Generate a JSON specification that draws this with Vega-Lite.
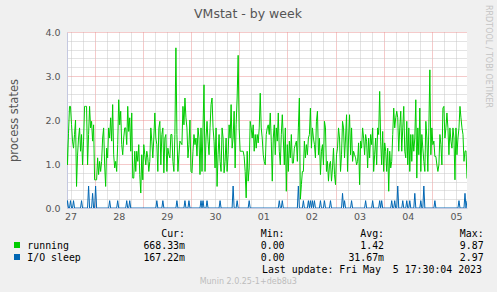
{
"$schema": "https://vega.github.io/schema/vega-lite/v6.json",
"width": 400,
"height": 176,
"autosize": {"type": "none"},
"padding": {"left": 67, "top": 32, "right": 30, "bottom": 84},
"background": "#f0f0f0",
"view": {"fill": "#ffffff", "stroke": null},
"config": {"font": "DejaVu Sans"},
"title": {"text": "VMstat - by week", "font": "DejaVu Sans", "fontSize": 12.5, "fontWeight": "normal", "color": "#555555", "anchor": "middle", "frame": "group", "dx": -19, "offset": -16},
"datasets": {
"vm": [
{"h":10,"r":1.59,"s":0},{"h":10.5,"r":0.98,"s":0.167},{"h":11,"r":1.7,"s":0},{"h":11.5,"r":2.31,"s":0},{"h":12,"r":2.31,"s":0.167},{"h":12.5,"r":1.9,"s":0},{"h":13,"r":1.52,"s":0},{"h":13.5,"r":1.36,"s":0.167},{"h":14,"r":1.67,"s":0},{"h":14.5,"r":2.0,"s":0},
{"h":15,"r":0.49,"s":0},{"h":15.5,"r":1.2,"s":0},{"h":16,"r":1.59,"s":0},{"h":16.5,"r":1.82,"s":0},{"h":17,"r":1.29,"s":0},{"h":17.5,"r":1.67,"s":0.167},{"h":18,"r":0.98,"s":0},{"h":18.5,"r":1.52,"s":0},{"h":19,"r":2.31,"s":0},{"h":19.5,"r":2.31,"s":0},
{"h":20,"r":2.31,"s":0},{"h":20.5,"r":0.98,"s":0},{"h":21,"r":1.67,"s":0.5},{"h":21.5,"r":2.31,"s":0},{"h":22,"r":1.82,"s":0},{"h":22.5,"r":1.97,"s":0},{"h":23,"r":1.52,"s":0.333},{"h":23.5,"r":1.89,"s":0},{"h":24,"r":0.64,"s":0},{"h":24.5,"r":0.64,"s":0.5},
{"h":25,"r":0.64,"s":0},{"h":25.5,"r":1.14,"s":0},{"h":26,"r":0.76,"s":0},{"h":26.5,"r":1.06,"s":0},{"h":27,"r":0.83,"s":0},{"h":27.5,"r":1.06,"s":0},{"h":28,"r":1.59,"s":0},{"h":28.5,"r":1.82,"s":0},{"h":29,"r":0.98,"s":0},{"h":29.5,"r":0.49,"s":0},
{"h":30,"r":1.36,"s":0},{"h":30.5,"r":1.14,"s":0},{"h":31,"r":1.82,"s":0},{"h":31.5,"r":1.59,"s":0.167},{"h":32,"r":2.05,"s":0},{"h":32.5,"r":1.52,"s":0},{"h":33,"r":2.35,"s":0},{"h":33.5,"r":1.21,"s":0},{"h":34,"r":0.91,"s":0},{"h":34.5,"r":1.06,"s":0},
{"h":35,"r":0.83,"s":0},{"h":35.5,"r":1.44,"s":0.167},{"h":36,"r":2.46,"s":0},{"h":36.5,"r":1.89,"s":0},{"h":37,"r":2.2,"s":0},{"h":37.5,"r":1.44,"s":0},{"h":38,"r":1.21,"s":0},{"h":38.5,"r":1.59,"s":0},{"h":39,"r":1.82,"s":0},{"h":39.5,"r":1.82,"s":0},
{"h":40,"r":1.44,"s":0.167},{"h":40.5,"r":2.31,"s":0},{"h":41,"r":1.74,"s":0},{"h":41.5,"r":2.05,"s":0.167},{"h":42,"r":1.29,"s":0},{"h":42.5,"r":2.16,"s":0},{"h":43,"r":0.68,"s":0},
{"h":43.5,"r":0.68,"s":0},{"h":44,"r":1.29,"s":0},{"h":44.5,"r":0.83,"s":0},{"h":45,"r":1.29,"s":0},{"h":45.5,"r":1.06,"s":0},{"h":46,"r":1.44,"s":0},{"h":46.5,"r":0.76,"s":0},{"h":47,"r":0.34,"s":0},{"h":47.5,"r":1.21,"s":0},{"h":48,"r":0.64,"s":0},
{"h":48.5,"r":1.44,"s":0},{"h":49,"r":1.21,"s":0},{"h":49.5,"r":0.98,"s":0},{"h":50,"r":1.29,"s":0},{"h":50.5,"r":1.14,"s":0},{"h":51,"r":0.83,"s":0},{"h":51.5,"r":1.06,"s":0},{"h":52,"r":1.82,"s":0},{"h":52.5,"r":1.52,"s":0},{"h":53,"r":1.14,"s":0},
{"h":53.5,"r":1.59,"s":0},{"h":54,"r":2.16,"s":0},{"h":54.5,"r":1.59,"s":0},{"h":55,"r":1.44,"s":0.167},{"h":55.5,"r":0.83,"s":0},{"h":56,"r":1.82,"s":0},{"h":56.5,"r":1.97,"s":0},{"h":57,"r":0.98,"s":0},{"h":57.5,"r":1.67,"s":0},{"h":58,"r":1.82,"s":0.167},
{"h":58.5,"r":0.8,"s":0},{"h":59,"r":1.59,"s":0},{"h":59.5,"r":1.67,"s":0},{"h":60,"r":0.83,"s":0},{"h":60.5,"r":1.36,"s":0},{"h":61,"r":1.21,"s":0},{"h":61.5,"r":1.14,"s":0},{"h":62,"r":1.67,"s":0},{"h":62.5,"r":1.67,"s":0},{"h":63,"r":1.06,"s":0},
{"h":63.5,"r":0.83,"s":0},{"h":64,"r":1.67,"s":0},{"h":64.5,"r":3.64,"s":0},{"h":65,"r":1.67,"s":0.167},{"h":65.5,"r":0.83,"s":0},{"h":66,"r":1.21,"s":0},{"h":66.5,"r":1.52,"s":0},{"h":67,"r":1.48,"s":0},{"h":67.5,"r":1.44,"s":0},{"h":68,"r":2.31,"s":0},
{"h":68.5,"r":1.89,"s":0},{"h":69,"r":2.5,"s":0.167},{"h":69.5,"r":2.05,"s":0},{"h":70,"r":1.82,"s":0},{"h":70.5,"r":1.14,"s":0},{"h":71,"r":1.44,"s":0.167},{"h":71.5,"r":2.0,"s":0},{"h":72,"r":0.83,"s":0},{"h":72.5,"r":0.8,"s":0},{"h":73,"r":1.29,"s":0},
{"h":73.5,"r":1.67,"s":0},{"h":74,"r":1.44,"s":0},{"h":74.5,"r":1.59,"s":0},{"h":75,"r":1.18,"s":0},{"h":75.5,"r":1.82,"s":0},{"h":76,"r":1.59,"s":0},{"h":76.5,"r":0.76,"s":0},
{"h":77,"r":1.82,"s":0.167},{"h":77.5,"r":0.83,"s":0},{"h":78,"r":1.82,"s":0.167},{"h":78.5,"r":2.8,"s":0},{"h":79,"r":0.83,"s":0},{"h":79.5,"r":1.59,"s":0},{"h":80,"r":1.97,"s":0.167},{"h":80.5,"r":1.52,"s":0},{"h":81,"r":1.21,"s":0},{"h":81.5,"r":1.82,"s":0},
{"h":82,"r":2.35,"s":0},{"h":82.5,"r":2.5,"s":0},{"h":83,"r":1.82,"s":0},{"h":83.5,"r":1.52,"s":0},{"h":84,"r":0.91,"s":0},{"h":84.5,"r":1.82,"s":0},{"h":85,"r":0.49,"s":0},{"h":85.5,"r":1.21,"s":0},{"h":86,"r":1.67,"s":0},{"h":86.5,"r":1.06,"s":0.167},
{"h":87,"r":0.83,"s":0},{"h":87.5,"r":1.82,"s":0},{"h":88,"r":1.59,"s":0},{"h":88.5,"r":0.8,"s":0},{"h":89,"r":1.06,"s":0},{"h":89.5,"r":1.59,"s":0},{"h":90,"r":0.83,"s":0},{"h":90.5,"r":1.21,"s":0},{"h":91,"r":1.89,"s":0},{"h":91.5,"r":1.59,"s":0},
{"h":92,"r":2.35,"s":0},{"h":92.5,"r":1.36,"s":0},{"h":93,"r":1.59,"s":0.5},{"h":93.5,"r":2.2,"s":0},{"h":94,"r":0.91,"s":0},{"h":94.5,"r":1.89,"s":0},{"h":95,"r":2.5,"s":0.167},{"h":95.5,"r":3.47,"s":0},{"h":96,"r":1.82,"s":0},{"h":96.5,"r":1.29,"s":0},
{"h":97,"r":1.29,"s":0},{"h":97.5,"r":1.29,"s":0},{"h":98,"r":1.29,"s":0},{"h":98.5,"r":1.17,"s":0},{"h":99,"r":0.83,"s":0},{"h":99.5,"r":0.23,"s":0},{"h":100,"r":1.29,"s":0},{"h":100.5,"r":0.61,"s":0},{"h":101,"r":0.91,"s":0.167},{"h":101.5,"r":1.97,"s":0},
{"h":102,"r":1.82,"s":0},{"h":102.5,"r":1.59,"s":0},{"h":103,"r":1.89,"s":0},{"h":103.5,"r":1.29,"s":0},{"h":104,"r":1.67,"s":0},{"h":104.5,"r":1.36,"s":0},{"h":105,"r":1.67,"s":0},{"h":105.5,"r":1.48,"s":0},{"h":106,"r":1.82,"s":0},{"h":106.5,"r":2.61,"s":0},
{"h":107,"r":1.82,"s":0},{"h":107.5,"r":1.59,"s":0},{"h":108,"r":1.21,"s":0},{"h":108.5,"r":1.06,"s":0},{"h":109,"r":0.98,"s":0},{"h":109.5,"r":1.67,"s":0},{"h":110,"r":1.82,"s":0},
{"h":110.5,"r":1.89,"s":0},{"h":111,"r":1.67,"s":0},{"h":111.5,"r":2.16,"s":0},{"h":112,"r":1.52,"s":0},{"h":112.5,"r":0.61,"s":0},{"h":113,"r":1.59,"s":0},{"h":113.5,"r":1.89,"s":0},{"h":114,"r":1.21,"s":0},{"h":114.5,"r":1.82,"s":0},{"h":115,"r":1.52,"s":0},
{"h":115.5,"r":2.16,"s":0},{"h":116,"r":1.29,"s":0.167},{"h":116.5,"r":0.98,"s":0},{"h":117,"r":1.67,"s":0},{"h":117.5,"r":2.12,"s":0.167},{"h":118,"r":1.59,"s":0},{"h":118.5,"r":0.98,"s":0},{"h":119,"r":1.82,"s":0},{"h":119.5,"r":0.38,"s":0},{"h":120,"r":1.44,"s":0},
{"h":120.5,"r":0.83,"s":0},{"h":121,"r":1.52,"s":0},{"h":121.5,"r":1.14,"s":0},{"h":122,"r":1.67,"s":0},{"h":122.5,"r":1.02,"s":0},{"h":123,"r":1.02,"s":0},{"h":123.5,"r":1.36,"s":0},{"h":124,"r":1.44,"s":0},{"h":124.5,"r":1.52,"s":0},{"h":125,"r":1.06,"s":0},
{"h":125.5,"r":1.82,"s":0.5},{"h":126,"r":2.5,"s":0},{"h":126.5,"r":0.2,"s":0},{"h":127,"r":0.53,"s":0},{"h":127.5,"r":0.83,"s":0},{"h":128,"r":0.83,"s":0.167},{"h":128.5,"r":1.52,"s":0},{"h":129,"r":1.14,"s":0},{"h":129.5,"r":1.44,"s":0},{"h":130,"r":1.21,"s":0},
{"h":130.5,"r":1.59,"s":0.167},{"h":131,"r":1.67,"s":0},{"h":131.5,"r":2.27,"s":0.167},{"h":132,"r":1.36,"s":0},{"h":132.5,"r":1.82,"s":0.167},{"h":133,"r":1.59,"s":0},{"h":133.5,"r":1.44,"s":0.167},{"h":134,"r":1.14,"s":0},{"h":134.5,"r":1.97,"s":0},{"h":135,"r":2.2,"s":0},
{"h":135.5,"r":1.21,"s":0},{"h":136,"r":1.59,"s":0},{"h":136.5,"r":0.76,"s":0.167},{"h":137,"r":1.29,"s":0},{"h":137.5,"r":1.44,"s":0},{"h":138,"r":0.98,"s":0},{"h":138.5,"r":1.97,"s":0.167},{"h":139,"r":1.82,"s":0},{"h":139.5,"r":0.83,"s":0},{"h":140,"r":1.06,"s":0},
{"h":140.5,"r":0.61,"s":0},{"h":141,"r":0.98,"s":0},{"h":141.5,"r":1.06,"s":0.167},{"h":142,"r":0.61,"s":0},{"h":142.5,"r":0.91,"s":0},{"h":143,"r":1.36,"s":0},{"h":143.5,"r":0.76,"s":0},
{"h":144,"r":0.53,"s":0},{"h":144.5,"r":1.21,"s":0},{"h":145,"r":1.36,"s":0},{"h":145.5,"r":1.82,"s":0},{"h":146,"r":1.59,"s":0},{"h":146.5,"r":0.83,"s":0},{"h":147,"r":1.21,"s":0},{"h":147.5,"r":1.97,"s":0.333},{"h":148,"r":1.82,"s":0},{"h":148.5,"r":1.14,"s":0.167},
{"h":149,"r":1.59,"s":0},{"h":149.5,"r":2.12,"s":0},{"h":150,"r":0.83,"s":0},{"h":150.5,"r":1.59,"s":0},{"h":151,"r":2.12,"s":0},{"h":151.5,"r":1.21,"s":0},{"h":152,"r":1.82,"s":0.167},{"h":152.5,"r":1.06,"s":0},{"h":153,"r":1.29,"s":0},{"h":153.5,"r":1.21,"s":0},
{"h":154,"r":1.14,"s":0},{"h":154.5,"r":0.98,"s":0},{"h":155,"r":1.06,"s":0},{"h":155.5,"r":1.48,"s":0},{"h":156,"r":0.53,"s":0},{"h":156.5,"r":1.52,"s":0},{"h":157,"r":1.36,"s":0},{"h":157.5,"r":1.82,"s":0},{"h":158,"r":1.59,"s":0},{"h":158.5,"r":1.21,"s":0},
{"h":159,"r":1.67,"s":0.167},{"h":159.5,"r":1.52,"s":0},{"h":160,"r":0.91,"s":0},{"h":160.5,"r":1.59,"s":0},{"h":161,"r":1.14,"s":0},{"h":161.5,"r":1.67,"s":0},{"h":162,"r":1.44,"s":0},{"h":162.5,"r":1.82,"s":0.167},{"h":163,"r":0.83,"s":0},{"h":163.5,"r":1.21,"s":0},
{"h":164,"r":1.59,"s":0},{"h":164.5,"r":0.98,"s":0},{"h":165,"r":1.82,"s":0},{"h":165.5,"r":1.67,"s":0},{"h":166,"r":2.65,"s":0.167},{"h":166.5,"r":1.52,"s":0},{"h":167,"r":0.98,"s":0.167},{"h":167.5,"r":1.74,"s":0},{"h":168,"r":0.83,"s":0},{"h":168.5,"r":1.48,"s":0},
{"h":169,"r":1.29,"s":0},{"h":169.5,"r":0.83,"s":0},{"h":170,"r":1.36,"s":0},{"h":170.5,"r":0.38,"s":0},{"h":171,"r":1.29,"s":0},{"h":171.5,"r":0.91,"s":0},{"h":172,"r":1.06,"s":0.167},{"h":172.5,"r":1.67,"s":0},{"h":173,"r":2.27,"s":0},{"h":173.5,"r":1.82,"s":0.167},
{"h":174,"r":2.05,"s":0},{"h":174.5,"r":2.2,"s":0},{"h":175,"r":2.05,"s":0.5},{"h":175.5,"r":1.29,"s":0},{"h":176,"r":1.82,"s":0},{"h":176.5,"r":2.2,"s":0},{"h":177,"r":1.29,"s":0},
{"h":177.5,"r":1.82,"s":0.167},{"h":178,"r":2.31,"s":0},{"h":178.5,"r":1.29,"s":0},{"h":179,"r":1.14,"s":0},{"h":179.5,"r":1.97,"s":0.167},{"h":180,"r":0.98,"s":0},{"h":180.5,"r":1.82,"s":0},{"h":181,"r":0.83,"s":0.167},{"h":181.5,"r":1.67,"s":0},{"h":182,"r":1.06,"s":0},
{"h":182.5,"r":1.67,"s":0},{"h":183,"r":1.29,"s":0},{"h":183.5,"r":1.59,"s":0.333},{"h":184,"r":2.46,"s":0},{"h":184.5,"r":0.68,"s":0},{"h":185,"r":1.82,"s":0},{"h":185.5,"r":1.21,"s":0},{"h":186,"r":2.27,"s":0},{"h":186.5,"r":0.83,"s":0.167},{"h":187,"r":1.67,"s":0},
{"h":187.5,"r":1.36,"s":0},{"h":188,"r":1.06,"s":0.5},{"h":188.5,"r":0.83,"s":0},{"h":189,"r":1.97,"s":0},{"h":189.5,"r":1.59,"s":0},{"h":190,"r":0.83,"s":0},{"h":190.5,"r":1.82,"s":0},{"h":191,"r":3.14,"s":0},{"h":191.5,"r":1.21,"s":0},{"h":192,"r":1.82,"s":0},
{"h":192.5,"r":1.44,"s":0},{"h":193,"r":1.52,"s":0},{"h":193.5,"r":1.17,"s":0.167},{"h":194,"r":1.17,"s":0},{"h":194.5,"r":0.98,"s":0},{"h":195,"r":0.83,"s":0},{"h":195.5,"r":0.98,"s":0},{"h":196,"r":1.67,"s":0},{"h":196.5,"r":1.44,"s":0},{"h":197,"r":0.98,"s":0},
{"h":197.5,"r":2.27,"s":0},{"h":198,"r":2.31,"s":0},{"h":198.5,"r":1.59,"s":0},{"h":199,"r":1.82,"s":0},{"h":199.5,"r":2.16,"s":0},{"h":200,"r":1.82,"s":0},{"h":200.5,"r":1.21,"s":0},{"h":201,"r":1.82,"s":0},{"h":201.5,"r":1.52,"s":0},{"h":202,"r":1.36,"s":0},
{"h":202.5,"r":1.82,"s":0},{"h":203,"r":1.59,"s":0},{"h":203.5,"r":0.64,"s":0},{"h":204,"r":1.82,"s":0},{"h":204.5,"r":1.21,"s":0},{"h":205,"r":1.59,"s":0},{"h":205.5,"r":1.82,"s":0.167},{"h":206,"r":2.31,"s":0},{"h":206.5,"r":2.05,"s":0},{"h":207,"r":1.82,"s":0},
{"h":207.5,"r":1.67,"s":0},{"h":208,"r":1.06,"s":0},{"h":208.5,"r":1.29,"s":0.333},{"h":209,"r":1.3,"s":0},{"h":209.5,"r":0.67,"s":0.167}
],
"stats": [
{"row":"hdr","col":"Cur","text":"Cur:\u00a0\u00a0"},{"row":"hdr","col":"Min","text":"Min:\u00a0\u00a0"},{"row":"hdr","col":"Avg","text":"Avg:\u00a0\u00a0"},{"row":"hdr","col":"Max","text":"Max:\u00a0\u00a0"},
{"row":"running","col":"Cur","text":"668.33m"},{"row":"running","col":"Min","text":"0.00\u00a0"},{"row":"running","col":"Avg","text":"1.42\u00a0"},{"row":"running","col":"Max","text":"9.87\u00a0"},
{"row":"io","col":"Cur","text":"167.22m"},{"row":"io","col":"Min","text":"0.00\u00a0"},{"row":"io","col":"Avg","text":"31.67m"},{"row":"io","col":"Max","text":"2.97\u00a0"}
],
"series": [{"name":"running"},{"name":"I/O sleep"}],
"update": [{"k":"upd","text":"Last update: Fri May\u00a0\u00a05 17:30:04 2023"}],
"munin": [{"k":"munin","text":"Munin 2.0.25-1+deb8u3"}],
"rrd": [{"k":"rrd","text":"RRDTOOL / TOBI OETIKER"}]
},
"layer": [
{
"data": {"name": "vm"},
"transform": [{"fold": ["r", "s"], "as": ["key", "value"]}],
"mark": {"type": "line", "strokeWidth": 1, "clip": true},
"encoding": {
"x": {"field": "h", "type": "quantitative", "scale": {"domain": [10.25, 209.5], "nice": false, "zero": false},
"axis": {"title": null, "values": [12,18,24,30,36,42,48,54,60,66,72,78,84,90,96,102,108,114,120,126,132,138,144,150,156,162,168,174,180,186,192,198,204],
"grid": true, "gridColor": {"condition": {"test": "datum.value % 24 === 0", "value": "#eb9494"}, "value": "#c6c6c6"}, "gridDash": [1, 1],
"ticks": false, "domainColor": "#c4c8e0", "labelExpr": "datum.value % 24 === 12 ? ['27','28','29','30','01','02','03','04','05'][floor(datum.value/24)] : ''",
"labelFont": "DejaVu Sans", "labelFontSize": 9.5, "labelColor": "#555555", "labelPadding": 3, "labelFlush": false, "labelOverlap": false}},
"y": {"field": "value", "type": "quantitative", "title": "process states", "scale": {"domain": [0, 4], "nice": false},
"axis": {"values": [0,0.2,0.4,0.6,0.8,1,1.2,1.4,1.6,1.8,2,2.2,2.4,2.6,2.8,3,3.2,3.4,3.6,3.8,4],
"grid": true, "gridColor": {"condition": {"test": "datum.value % 1 === 0", "value": "#eb9494"}, "value": "#c6c6c6"}, "gridDash": [1, 1],
"ticks": false, "domainColor": "#c4c8e0", "labelExpr": "datum.value % 1 === 0 ? format(datum.value, '.1f') : ''",
"labelFont": "DejaVu Sans", "labelFontSize": 9.5, "labelColor": "#555555", "labelPadding": 7, "labelOverlap": false, "labelFlush": false,
"titleFont": "DejaVu Sans", "titleFontSize": 11.5, "titleFontWeight": "normal", "titleColor": "#555555", "titlePadding": 25}},
"color": {"field": "key", "type": "nominal", "scale": {"domain": ["r", "s"], "range": ["#00cc00", "#0066b3"]}, "legend": null}
}
},
{
"data": {"name": "stats"},
"mark": {"type": "text", "font": "DejaVu Sans Mono", "fontSize": 9.9, "align": "right", "baseline": "alphabetic", "color": "#000000"},
"encoding": {
"x": {"field": "col", "type": "nominal", "scale": {"type": "point", "domain": ["Cur","Min","Avg","Max"], "range": [118, 416.6], "padding": 0}, "axis": null},
"y": {"field": "row", "type": "nominal", "scale": {"type": "point", "domain": ["hdr","running","io"], "range": [205, 228.5], "padding": 0}, "axis": null},
"text": {"field": "text"}
}
},
{
"data": {"name": "series"},
"mark": {"type": "square", "size": 36, "opacity": 1, "filled": true},
"encoding": {
"x": {"field": "name", "type": "nominal", "scale": {"type": "point", "domain": ["running","I/O sleep"], "range": [-50, -50], "padding": 0}, "axis": null},
"y": {"field": "name", "type": "nominal", "scale": {"type": "point", "domain": ["running","I/O sleep"], "range": [213, 225], "padding": 0}, "axis": null},
"color": {"field": "name", "type": "nominal", "scale": {"domain": ["running","I/O sleep"], "range": ["#00cc00","#0066b3"]}, "legend": null}
}
},
{
"data": {"name": "series"},
"mark": {"type": "text", "font": "DejaVu Sans Mono", "fontSize": 9.9, "align": "left", "baseline": "alphabetic", "color": "#000000"},
"encoding": {
"x": {"field": "name", "type": "nominal", "scale": {"type": "point", "domain": ["running","I/O sleep"], "range": [-39.7, -39.7], "padding": 0}, "axis": null},
"y": {"field": "name", "type": "nominal", "scale": {"type": "point", "domain": ["running","I/O sleep"], "range": [216.5, 228.5], "padding": 0}, "axis": null},
"text": {"field": "name"}
}
},
{
"data": {"name": "update"},
"mark": {"type": "text", "font": "DejaVu Sans Mono", "fontSize": 9.9, "align": "right", "baseline": "alphabetic", "color": "#000000"},
"encoding": {
"x": {"field": "k", "type": "nominal", "scale": {"type": "point", "domain": ["upd"], "range": [415, 415], "padding": 0}, "axis": null},
"y": {"field": "k", "type": "nominal", "scale": {"type": "point", "domain": ["upd"], "range": [241.3, 241.3], "padding": 0}, "axis": null},
"text": {"field": "text"}
}
},
{
"data": {"name": "munin"},
"mark": {"type": "text", "font": "DejaVu Sans", "fontSize": 8, "align": "center", "baseline": "alphabetic", "color": "#bdbdbd"},
"encoding": {
"x": {"field": "k", "type": "nominal", "scale": {"type": "point", "domain": ["munin"], "range": [181.3, 181.3], "padding": 0}, "axis": null},
"y": {"field": "k", "type": "nominal", "scale": {"type": "point", "domain": ["munin"], "range": [252, 252], "padding": 0}, "axis": null},
"text": {"field": "text"}
}
},
{
"data": {"name": "rrd"},
"mark": {"type": "text", "font": "DejaVu Sans", "fontSize": 8, "align": "center", "baseline": "middle", "angle": 90, "color": "#c4c4c4"},
"encoding": {
"x": {"field": "k", "type": "nominal", "scale": {"type": "point", "domain": ["rrd"], "range": [421.3, 421.3], "padding": 0}, "axis": null},
"y": {"field": "k", "type": "nominal", "scale": {"type": "point", "domain": ["rrd"], "range": [24.5, 24.5], "padding": 0}, "axis": null},
"text": {"field": "text"}
}
}
],
"resolve": {"scale": {"x": "independent", "y": "independent", "color": "independent"}}
}
